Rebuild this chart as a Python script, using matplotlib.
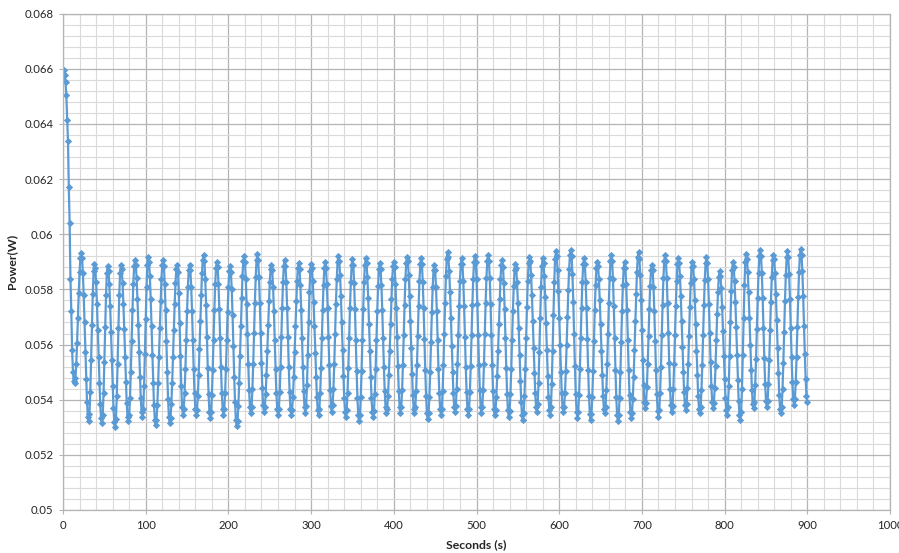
import numpy as np
import matplotlib

matplotlib.use("Agg")
import matplotlib.pyplot as plt
from matplotlib.ticker import MultipleLocator, FuncFormatter

# power samples, one per second, in units of 1e-5 W
power_1e5 = [
    6595, 6576, 6551, 6506, 6416, 6337, 6170, 6040, 5837, 5720, 5581, 5502, 5466,
    5460, 5478, 5529, 5606, 5696, 5786, 5863, 5914, 5932,
    5914, 5861, 5779, 5680, 5573, 5474, 5392, 5339, 5321,
    5349, 5429, 5543, 5671, 5785, 5865, 5893,
    5876, 5825, 5748, 5654, 5554, 5459, 5383, 5332, 5315,
    5343, 5423, 5537, 5664, 5778, 5858, 5886,
    5868, 5818, 5740, 5645, 5543, 5448, 5370, 5320, 5302,
    5331, 5413, 5531, 5661, 5779, 5861, 5890,
    5873, 5823, 5748, 5655, 5556, 5463, 5388, 5338, 5321,
    5343, 5407, 5502, 5614, 5726, 5821, 5885, 5907,
    5890, 5841, 5765, 5672, 5574, 5481, 5405, 5356, 5339,
    5368, 5448, 5564, 5694, 5810, 5890, 5919,
    5901, 5848, 5766, 5667, 5561, 5461, 5380, 5327, 5309,
    5327, 5379, 5459, 5556, 5660, 5758, 5837, 5889, 5907,
    5885, 5821, 5725, 5612, 5499, 5403, 5339, 5317,
    5334, 5384, 5460, 5554, 5653, 5747, 5823, 5873, 5890,
    5863, 5787, 5678, 5557, 5448, 5372, 5345,
    5366, 5425, 5513, 5618, 5722, 5810, 5869, 5890,
    5869, 5810, 5722, 5617, 5513, 5425, 5366, 5345,
    5363, 5413, 5490, 5585, 5686, 5781, 5858, 5908, 5926,
    5903, 5839, 5743, 5629, 5516, 5420, 5356, 5333,
    5355, 5416, 5508, 5617, 5726, 5818, 5879, 5901,
    5880, 5820, 5729, 5623, 5517, 5426, 5366, 5345,
    5366, 5424, 5512, 5616, 5719, 5807, 5865, 5886,
    5864, 5801, 5707, 5595, 5484, 5390, 5327, 5305,
    5324, 5377, 5459, 5560, 5667, 5768, 5850, 5903, 5922,
    5900, 5839, 5746, 5637, 5529, 5436, 5375, 5353,
    5375, 5437, 5531, 5641, 5751, 5845, 5907, 5929,
    5907, 5845, 5752, 5643, 5534, 5441, 5379, 5357,
    5373, 5419, 5490, 5577, 5670, 5757, 5828, 5874, 5890,
    5869, 5810, 5722, 5617, 5513, 5425, 5366, 5345,
    5366, 5427, 5518, 5626, 5734, 5825, 5886, 5907,
    5886, 5825, 5734, 5626, 5518, 5427, 5366, 5345,
    5362, 5409, 5483, 5572, 5668, 5758, 5831, 5878, 5895,
    5874, 5815, 5727, 5623, 5519, 5431, 5372, 5351,
    5378, 5453, 5562, 5682, 5791, 5866, 5893,
    5876, 5829, 5756, 5667, 5571, 5482, 5409, 5362, 5345,
    5366, 5426, 5516, 5622, 5727, 5817, 5877, 5898,
    5877, 5819, 5731, 5627, 5524, 5436, 5378, 5357,
    5379, 5440, 5531, 5640, 5748, 5839, 5900, 5922,
    5904, 5854, 5776, 5681, 5580, 5485, 5407, 5357, 5339,
    5361, 5423, 5515, 5625, 5734, 5826, 5888, 5910,
    5888, 5824, 5728, 5615, 5503, 5407, 5343, 5321,
    5344, 5408, 5504, 5617, 5730, 5826, 5890, 5913,
    5896, 5846, 5769, 5676, 5576, 5482, 5406, 5356, 5339,
    5360, 5420, 5511, 5617, 5723, 5814, 5874, 5895,
    5874, 5815, 5727, 5623, 5519, 5431, 5372, 5351,
    5368, 5415, 5489, 5578, 5674, 5764, 5837, 5884, 5901,
    5880, 5820, 5731, 5626, 5521, 5432, 5372, 5351,
    5373, 5434, 5526, 5635, 5744, 5836, 5897, 5919,
    5902, 5853, 5777, 5684, 5586, 5493, 5417, 5368, 5351,
    5372, 5433, 5524, 5632, 5740, 5831, 5892, 5913,
    5891, 5828, 5733, 5621, 5509, 5414, 5351, 5329,
    5350, 5411, 5502, 5610, 5717, 5808, 5869, 5890,
    5869, 5810, 5722, 5617, 5513, 5425, 5366, 5345,
    5367, 5431, 5527, 5640, 5752, 5848, 5912, 5934,
    5917, 5866, 5790, 5696, 5595, 5501, 5425, 5374, 5357,
    5378, 5438, 5529, 5635, 5741, 5832, 5892, 5913,
    5891, 5830, 5738, 5629, 5520, 5428, 5367, 5345,
    5367, 5429, 5523, 5634, 5744, 5838, 5900, 5922,
    5900, 5838, 5746, 5636, 5527, 5435, 5373, 5351,
    5373, 5435, 5529, 5639, 5749, 5842, 5904, 5926,
    5904, 5841, 5747, 5635, 5524, 5430, 5367, 5345,
    5362, 5411, 5485, 5576, 5674, 5765, 5839, 5888, 5905,
    5883, 5822, 5730, 5622, 5514, 5422, 5361, 5339,
    5360, 5420, 5510, 5616, 5722, 5812, 5872, 5893,
    5876, 5827, 5751, 5659, 5561, 5468, 5393, 5344, 5327,
    5350, 5414, 5510, 5623, 5736, 5832, 5896, 5919,
    5902, 5853, 5778, 5687, 5589, 5497, 5423, 5374, 5357,
    5385, 5462, 5573, 5697, 5808, 5885, 5913,
    5896, 5847, 5771, 5678, 5580, 5487, 5411, 5362, 5345,
    5374, 5457, 5576, 5708, 5826, 5909, 5938,
    5920, 5870, 5793, 5698, 5597, 5502, 5425, 5375, 5357,
    5375, 5426, 5504, 5600, 5701, 5797, 5875, 5926, 5944,
    5921, 5855, 5755, 5638, 5522, 5422, 5356, 5333,
    5355, 5418, 5512, 5623, 5734, 5828, 5891, 5913,
    5891, 5827, 5732, 5620, 5508, 5413, 5349, 5327,
    5349, 5411, 5504, 5614, 5724, 5817, 5879, 5901,
    5884, 5837, 5763, 5674, 5578, 5488, 5415, 5368, 5351,
    5373, 5435, 5529, 5639, 5749, 5842, 5904, 5926,
    5903, 5837, 5739, 5623, 5508, 5410, 5344, 5321,
    5343, 5406, 5500, 5611, 5722, 5816, 5879, 5901,
    5879, 5818, 5726, 5617, 5508, 5416, 5355, 5333,
    5351, 5403, 5483, 5581, 5686, 5784, 5864, 5916, 5934,
    5912, 5851, 5760, 5651, 5543, 5452, 5391, 5369,
    5389, 5445, 5530, 5630, 5729, 5814, 5870, 5890,
    5869, 5809, 5720, 5614, 5509, 5420, 5360, 5339,
    5361, 5425, 5520, 5633, 5745, 5840, 5904, 5926,
    5904, 5843, 5750, 5641, 5533, 5440, 5379, 5357,
    5378, 5438, 5529, 5635, 5741, 5832, 5892, 5913,
    5896, 5849, 5775, 5686, 5590, 5500, 5427, 5380, 5363,
    5383, 5442, 5529, 5632, 5735, 5822, 5881, 5901,
    5884, 5837, 5763, 5674, 5578, 5488, 5415, 5368, 5351,
    5373, 5434, 5526, 5634, 5742, 5834, 5895, 5917,
    5896, 5837, 5748, 5643, 5538, 5449, 5390, 5369,
    5388, 5442, 5522, 5617, 5712, 5792, 5846, 5865,
    5849, 5804, 5735, 5650, 5560, 5475, 5406, 5361, 5345,
    5372, 5449, 5560, 5683, 5794, 5871, 5898,
    5881, 5831, 5755, 5662, 5563, 5470, 5394, 5344, 5327,
    5357, 5440, 5561, 5695, 5816, 5899, 5929,
    5912, 5863, 5789, 5698, 5600, 5509, 5435, 5386, 5369,
    5391, 5453, 5547, 5657, 5767, 5860, 5922, 5944,
    5922, 5861, 5768, 5659, 5551, 5458, 5397, 5375,
    5396, 5456, 5545, 5651, 5756, 5845, 5905, 5926,
    5909, 5859, 5782, 5688, 5589, 5495, 5418, 5368, 5351,
    5373, 5437, 5532, 5645, 5757, 5852, 5916, 5938,
    5917, 5856, 5766, 5659, 5553, 5463, 5402, 5381,
    5403, 5464, 5555, 5664, 5772, 5863, 5924, 5946,
    5925, 5865, 5775, 5669, 5564, 5474, 5414, 5393,
]
power = np.array(power_1e5) * 1e-5
seconds = np.arange(1, len(power) + 1)

x_label = "Seconds (s)"
y_label = "Power(W)"

plt.rcParams["font.family"] = ["Lato", "DejaVu Sans"]

fig = plt.figure(figsize=(8.99, 5.53), dpi=100)
ax = fig.add_axes([0.0701, 0.0778, 0.9199, 0.8975])

ax.plot(seconds, power, color="#5B9BD5", linewidth=1.6,
        marker="D", markersize=3.1, markerfacecolor="#5B9BD5",
        markeredgecolor="#5B9BD5", markeredgewidth=0.6)

ax.set_xlim(0, 1000)
ax.set_ylim(0.05, 0.068)
ax.xaxis.set_major_locator(MultipleLocator(100))
ax.xaxis.set_minor_locator(MultipleLocator(20))
ax.yaxis.set_major_locator(MultipleLocator(0.002))
ax.yaxis.set_minor_locator(MultipleLocator(0.0004))
ax.yaxis.set_major_formatter(FuncFormatter(lambda v, _: f"{v:.3f}".rstrip("0")))
ax.xaxis.set_major_formatter(FuncFormatter(lambda v, _: f"{v:.0f}"))

ax.grid(which="major", color="#B4B4B4", linewidth=0.9)
ax.grid(which="minor", color="#DADADA", linewidth=0.8)
ax.set_axisbelow(True)
for spine in ax.spines.values():
    spine.set_color("#B4B4B4")
    spine.set_linewidth(0.9)

ax.tick_params(which="major", length=3, color="#B4B4B4", labelsize=8.2,
               labelcolor="#262626", pad=4)
ax.tick_params(which="minor", length=0)

ax.set_xlabel(x_label, fontsize=8.8, fontweight="bold", color="#262626", labelpad=6)
ax.set_ylabel(y_label, fontsize=8.8, fontweight="bold", color="#262626", labelpad=5)

fig.savefig("out.png", dpi=100)
